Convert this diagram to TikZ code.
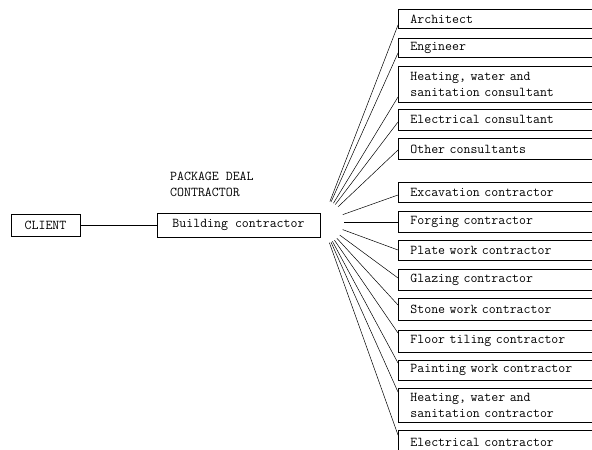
\documentclass[tikz,border=0pt]{standalone}
\usetikzlibrary{calc}
\begin{document}
\begin{tikzpicture}[x=1pt, y=-1pt, font=\fontsize{13.5}{16}\selectfont\ttfamily]
    \tikzset{box/.style={draw, line width=0.8pt, inner sep=0pt}}
    \tikzset{subbox/.style={draw, line width=0.8pt, anchor=north west, align=left, text width=200pt, inner xsep=12pt, inner ysep=0pt, minimum height=20pt}}
    \tikzset{link/.style={line width=0.5pt, shorten <=22pt}}
    \useasboundingbox (0,0) rectangle (592,450);
    \clip (0,0) rectangle (592,450);

    \node[box, minimum width=69pt, minimum height=22pt] (Client) at (45.5,225) {CLIENT};
    \node[box, minimum width=163pt, minimum height=24pt] (Building) at (238.5,225) {Building contractor};
    \node[anchor=north west, align=left, inner sep=0pt] (Package) at (170,172) {PACKAGE DEAL\\CONTRACTOR};
    \draw[line width=0.5pt] (Client) -- (Building);
    \coordinate (Hub) at (322,222);

        \node[subbox, minimum height=19pt] (Architect) at (398,9) {Architect};
        \node[subbox, minimum height=19pt] (Engineer) at (398,38) {Engineer};
        \node[subbox, minimum height=36pt] (HeatCons) at (398,66) {Heating, water and\\sanitation consultant};
        \node[subbox, minimum height=21pt] (ElecCons) at (398,109) {Electrical consultant};
        \node[subbox, minimum height=21pt] (OtherCons) at (398,138) {Other consultants};

        \node[subbox] (Excavation) at (398,182) {Excavation contractor};
        \node[subbox, minimum height=21pt] (Forging) at (398,211) {Forging contractor};
        \node[subbox] (Plate) at (398,240) {Plate work contractor};
        \node[subbox, minimum height=21pt] (Glazing) at (398,269) {Glazing contractor};
        \node[subbox, minimum height=22pt] (Stone) at (398,298) {Stone work contractor};
        \node[subbox, minimum height=22pt] (Floor) at (398,330) {Floor tiling contractor};
        \node[subbox] (Painting) at (398,360) {Painting work contractor};
        \node[subbox, minimum height=34pt] (HeatContr) at (398,388) {Heating, water and\\sanitation contractor};
        \node[subbox, minimum height=25pt] (ElecContr) at (398,430) {Electrical contractor};

        \foreach \n/\d in {Architect/16,Engineer/15,HeatCons/31,ElecCons/13,OtherCons/12,Excavation/13,Forging/11,Plate/10,Glazing/9,Stone/7,Floor/3,Painting/3,HeatContr/4,ElecContr/5}{
            \draw[link] (Hub) -- ($(\n.north west)+(0,\d)$);
        }
\end{tikzpicture}
\end{document}
